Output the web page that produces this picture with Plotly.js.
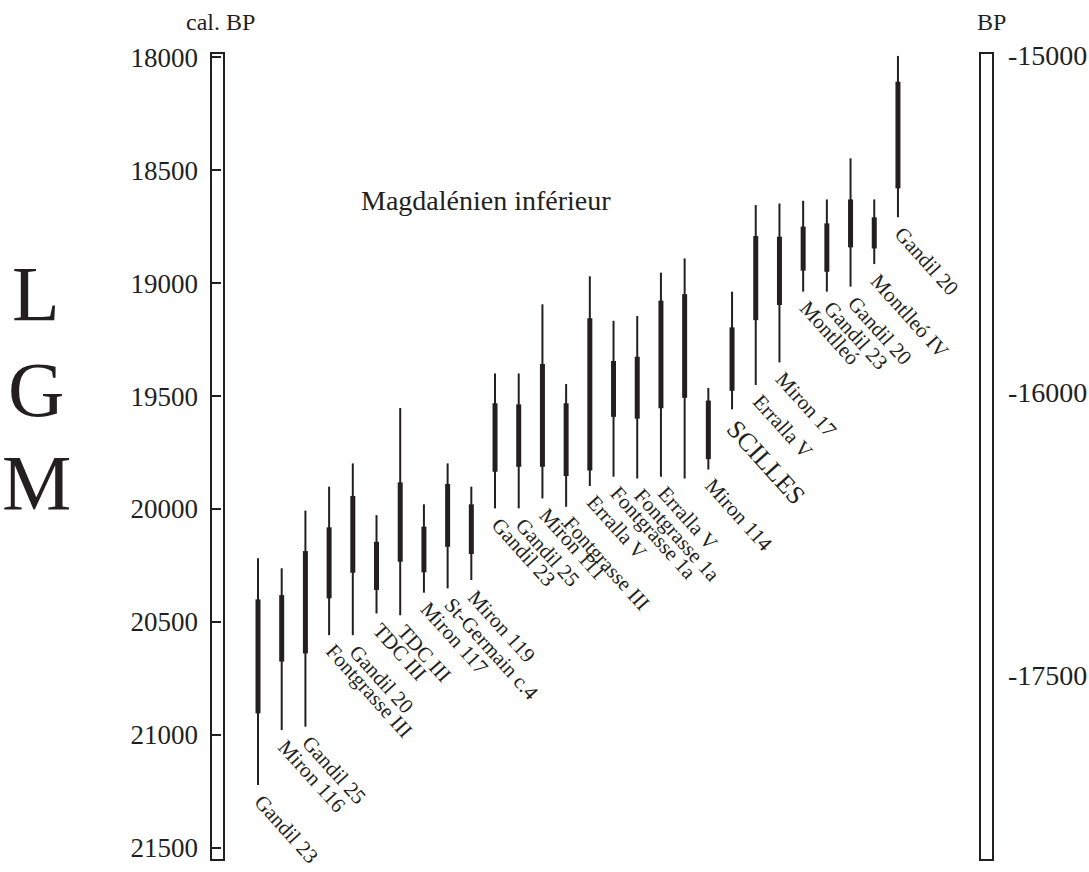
<!DOCTYPE html>
<html>
<head>
<meta charset="utf-8">
<script src="https://cdn.plot.ly/plotly-3.0.1.min.js"></script>
<style>html,body{margin:0;padding:0;background:#fff;}#chart{width:1089px;height:872px;}</style>
</head>
<body>
<div id="chart"></div>
<script>
// ---- data (cal. BP) ----
const sampleLabels = ["Gandil 23","Miron 116","Gandil 25","Fontgrasse III","Gandil 20","TDC III","TDC III","Miron 117","St-Germain c.4","Miron 119",
  "Gandil 23","Gandil 25","Miron 111","Fontgrasse III","Erralla V","Fontgrasse 1a","Fontgrasse 1a","Erralla V","","Miron 114",
  "SCILLES","Erralla V","Miron 17","Montlleó","Gandil 23","Gandil 20","Montlleó IV","Gandil 20"];
const thinTop     = [20218,20262,20007,19901,19798,20027,19553,19979,19798,19901,19400,19400,19094,19447,18970,19167,19146,18954,18891,19464,19038,18655,18648,18636,18630,18448,18630,17995];
const thickTop    = [20400,20381,20186,20081,19942,20145,19882,20078,19889,19979,19532,19537,19358,19532,19156,19345,19326,19078,19049,19520,19196,18792,18795,18750,18736,18630,18709,18109];
const thickBottom = [20904,20675,20639,20395,20282,20358,20233,20280,20167,20199,19835,19813,19813,19854,19830,19592,19600,19554,19508,19779,19477,19164,19097,18945,18950,18842,18847,18581];
const thinBottom  = [21221,20978,20963,20558,20558,20462,20470,20370,20351,20314,19997,19997,19953,19990,19898,19857,19865,19857,19865,19825,19559,19451,19351,19038,19038,19016,18916,18709];
const calTicks = [18000,18500,19000,19500,20000,20500,21000,21500];
const calTickText = ["18000","18500","19000","19500","20000","20500","21000","21500"];
const bpTickPos = [17991,19481,20735];
const bpTickText = ["-15000","-16000","-17500"];
const chartTitle = "Magdalénien inférieur";
const leftTitle = "cal. BP";
const rightTitle = "BP";
const sideLetters = ["L","G","M"];

// ---- build traces ----
const FONT = "Liberation Serif, Times New Roman, serif";
const INK = "#231f20";
function segs(top, bot){
  const xs=[], ys=[];
  top.forEach((t,i)=>{ xs.push(i,i,null); ys.push(t,bot[i],null); });
  return {xs, ys};
}
const thin = segs(thinTop, thinBottom);
const thick = segs(thickTop, thickBottom);
const traces = [
  {x: thin.xs, y: thin.ys, mode:"lines", line:{color:INK, width:2}, hoverinfo:"skip", showlegend:false},
  {x: thick.xs, y: thick.ys, mode:"lines", line:{color:INK, width:5}, hoverinfo:"skip", showlegend:false},
  {x:[0], y:[calTicks[0]], yaxis:"y2", mode:"markers", marker:{opacity:0}, hoverinfo:"skip", showlegend:false}
];

const W=1089, H=872, ML=211, MR=96, MT=53, MB=12;
const PW=W-ML-MR, PH=H-MT-MB;
function px(x){return (x-ML)/PW;} function py(y){return 1-(y-MT)/PH;}

const annotations = [];
sampleLabels.forEach((lab,i)=>{
  if(!lab) return;
  const big = lab === "SCILLES";
  annotations.push({x:i, y:thinBottom[i], xref:"x", yref:"y", text:lab, showarrow:false,
    textangle:48, xanchor:"left", yanchor:"top", xshift: big ? -14 : -11, yshift:-2,
    font:{family:FONT, size: big ? 26 : 21, color:INK}});
});
function free(text, x, y, size){
  annotations.push({text:text, x:px(x), y:py(y), xref:"paper", yref:"paper", xanchor:"center", yanchor:"middle",
    showarrow:false, font:{family:FONT, size:size, color:INK}});
}
free(chartTitle, 486, 200, 28);
free(leftTitle, 220, 22, 24);
free(rightTitle, 991, 22, 24);
[293,389,482].forEach((yy,k)=>free(sideLetters[k], 36, yy, 78));

const layout = {
  width:W, height:H, paper_bgcolor:"#fff", plot_bgcolor:"#fff",
  margin:{l:ML, r:MR, t:MT, b:MB, pad:0},
  xaxis:{range:[-1.983, 31.01], visible:false, fixedrange:true},
  yaxis:{range:[21553,17982], tickvals:calTicks, ticktext:calTickText, ticks:"inside", ticklen:10, tickwidth:2, tickcolor:INK,
    showgrid:false, zeroline:false, showline:false, ticklabelstandoff:12,
    tickfont:{family:FONT, size:27, color:INK}},
  yaxis2:{overlaying:"y", side:"right", range:[21553,17982], tickvals:bpTickPos, ticktext:bpTickText,
    ticks:"", showgrid:false, zeroline:false, showline:false, ticklabelstandoff:14,
    tickfont:{family:FONT, size:28, color:INK}},
  shapes:[
    {type:"rect", xref:"paper", yref:"paper", x0:0, x1:13/PW, y0:0, y1:1, line:{color:INK, width:2}, fillcolor:"#fff", layer:"below"},
    {type:"rect", xref:"paper", yref:"paper", x0:1-13/PW, x1:1, y0:0, y1:1, line:{color:INK, width:2}, fillcolor:"#fff", layer:"below"}
  ],
  annotations: annotations,
  showlegend:false
};
Plotly.newPlot("chart", traces, layout, {staticPlot:true, displayModeBar:false});
</script>
</body>
</html>
